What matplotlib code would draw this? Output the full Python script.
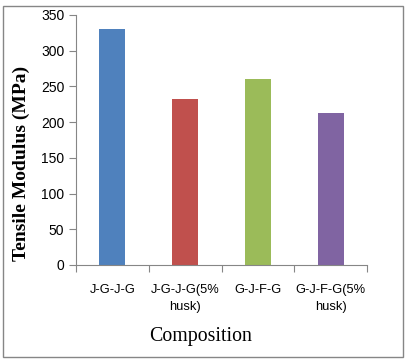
import matplotlib.pyplot as plt
from matplotlib.patches import Rectangle

composiciones = ['J-G-J-G', 'J-G-J-G(5%\nhusk)', 'G-J-F-G', 'G-J-F-G(5%\nhusk)']
modulo = [330, 232, 260, 213]
colores = ['#4F81BD', '#C0504D', '#9BBB59', '#8064A2']

fig = plt.figure(figsize=(4.05, 3.62), dpi=100)
ax = fig.add_axes([76/405, 1 - 265/362, (367 - 76)/405, (265 - 15)/362])

pos = list(range(len(modulo)))
ax.bar(pos, modulo, width=0.36, color=colores)

ax.set_xlim(-0.5, len(modulo) - 0.5)
ax.set_ylim(0, 350)
ax.set_yticks(range(0, 351, 50))
ax.set_xticks([p - 0.5 for p in pos] + [len(modulo) - 0.5])
ax.set_xticklabels([])
ax.set_xticks(pos, minor=True)
ax.set_xticklabels(composiciones, minor=True, fontsize=9.3, family='Liberation Sans', linespacing=1.55)
ax.tick_params(axis='x', which='minor', length=0, pad=14)
ax.tick_params(axis='x', which='major', length=5, color='#868686')
ax.tick_params(axis='y', length=5, color='#868686', labelsize=10)
for lbl in ax.get_yticklabels():
    lbl.set_family('Liberation Sans')

for lado in ['top', 'right']:
    ax.spines[lado].set_visible(False)
for lado in ['left', 'bottom']:
    ax.spines[lado].set_color('#868686')

# etiquetas de ejes colocadas como en el original
fig.text(21/405, 1 - 163/362, 'Tensile Modulus (MPa)', rotation=90, ha='center', va='center',
         family='Liberation Serif', fontsize=14, fontweight='bold')
fig.text(201/405, 1 - 336/362, 'Composition', ha='center', va='center',
         family='Liberation Serif', fontsize=14.3)

fig.patches.append(Rectangle((3/405, 5/362), 400/405, 351/362, transform=fig.transFigure,
                             fill=False, edgecolor='#868686', linewidth=1))

fig.savefig('out.png', dpi=100)
